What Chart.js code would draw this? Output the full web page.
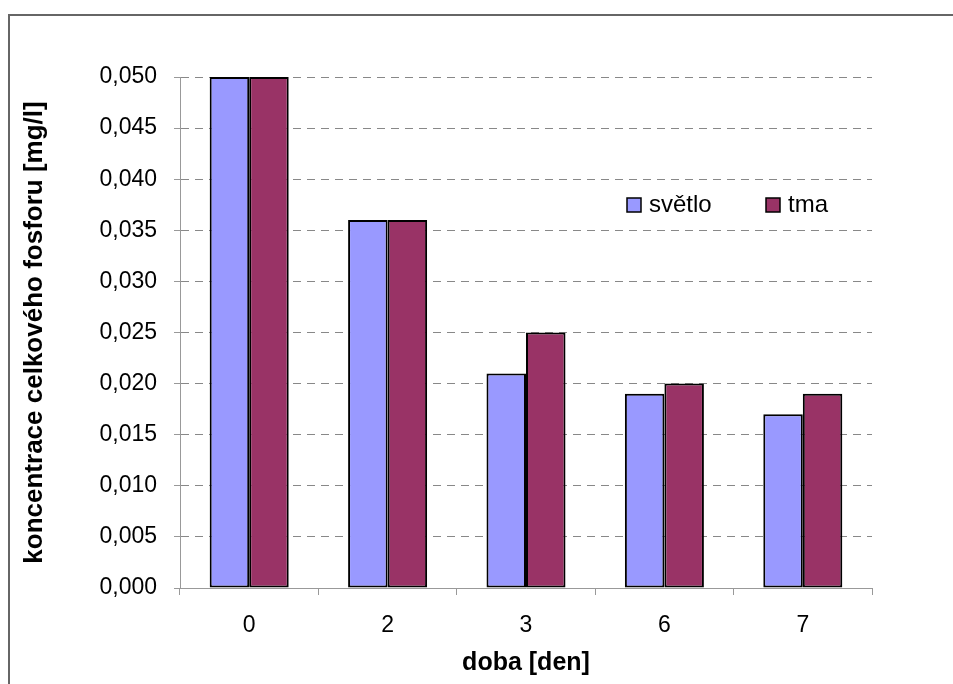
<!DOCTYPE html>
<html>
<head>
<meta charset="utf-8">
<script src="https://cdn.jsdelivr.net/npm/chart.js@4.4.1/dist/chart.umd.min.js"></script>
<style>
  html, body { margin: 0; padding: 0; background: #fff; }
  #wrap { width: 953px; height: 684px; position: relative; }
</style>
</head>
<body>
<div id="wrap"><canvas id="c" width="953" height="684"></canvas></div>
<script>
const categories = ['0', '2', '3', '6', '7'];
const svetlo = [0.050, 0.036, 0.021, 0.019, 0.017];
const tma = [0.050, 0.036, 0.025, 0.020, 0.019];
const seriesNames = ['světlo', 'tma'];
const yTitle = 'koncentrace celkového fosforu [mg/l]';
const xTitle = 'doba [den]';

const FONT = "'Liberation Sans', Arial, sans-serif";

const framePlugin = {
  id: 'frame',
  beforeDraw(chart) {
    const ctx = chart.ctx;
    ctx.save();
    ctx.fillStyle = '#fff';
    ctx.fillRect(0, 0, chart.width, chart.height);
    ctx.strokeStyle = '#666';
    ctx.lineWidth = 2;
    ctx.beginPath();
    ctx.moveTo(9, chart.height);
    ctx.lineTo(9, 15);
    ctx.lineTo(chart.width, 15);
    ctx.stroke();
    ctx.restore();
  }
};

const legendPlugin = {
  id: 'customLegend',
  afterDraw(chart) {
    const ctx = chart.ctx;
    const items = [{x: 627, y: 198}, {x: 766, y: 198}];
    ctx.save();
    ctx.font = '24px ' + FONT;
    ctx.textBaseline = 'middle';
    ctx.textAlign = 'left';
    chart.data.datasets.forEach((ds, i) => {
      const p = items[i];
      ctx.fillStyle = ds.backgroundColor;
      ctx.fillRect(p.x, p.y, 14, 14);
      ctx.strokeStyle = '#000';
      ctx.lineWidth = 1.5;
      ctx.strokeRect(p.x, p.y, 14, 14);
      ctx.fillStyle = '#000';
      ctx.fillText(ds.label, p.x + 22, p.y + 7);
    });
    ctx.restore();
  }
};

new Chart(document.getElementById('c'), {
  type: 'bar',
  data: {
    labels: categories,
    datasets: [
      { label: seriesNames[0], data: svetlo, backgroundColor: '#9999FF', borderColor: '#000', borderWidth: 2, borderSkipped: false },
      { label: seriesNames[1], data: tma, backgroundColor: '#993366', borderColor: '#000', borderWidth: 2, borderSkipped: false }
    ]
  },
  options: {
    responsive: false,
    animation: false,
    devicePixelRatio: 1,
    categoryPercentage: 0.571,
    barPercentage: 1.0,
    layout: { padding: { top: 77, right: 81, left: 0, bottom: 0 } },
    plugins: { legend: { display: false }, tooltip: { enabled: false } },
    scales: {
      x: {
        type: 'category',
        afterFit(s) { s.height = 96; },
        grid: { offset: true, drawOnChartArea: false, color: '#999', tickLength: 7, lineWidth: 1 },
        border: { display: true, color: '#999', width: 1 },
        ticks: { color: '#000', font: { family: FONT, size: 23 }, padding: 17 },
        title: { display: true, text: xTitle, color: '#000', font: { family: FONT, size: 25, weight: 'bold' }, padding: { top: 0, bottom: 6 } }
      },
      y: {
        min: 0, max: 0.05,
        afterFit(s) { s.width = 180; },
        grid: { color: '#888', tickBorderDash: [], tickColor: '#999', tickLength: 6, lineWidth: 1 },
        border: { display: true, color: '#999', width: 1, dash: [8, 6] },
        ticks: {
          stepSize: 0.005, color: '#000', font: { family: FONT, size: 23 }, padding: 17,
          callback: v => v.toFixed(3).replace('.', ',')
        },
        title: { display: true, text: yTitle, color: '#000', font: { family: FONT, size: 26, weight: 'bold' }, padding: { top: 19, bottom: 0 } }
      }
    }
  },
  plugins: [framePlugin, legendPlugin]
});
</script>
</body>
</html>
